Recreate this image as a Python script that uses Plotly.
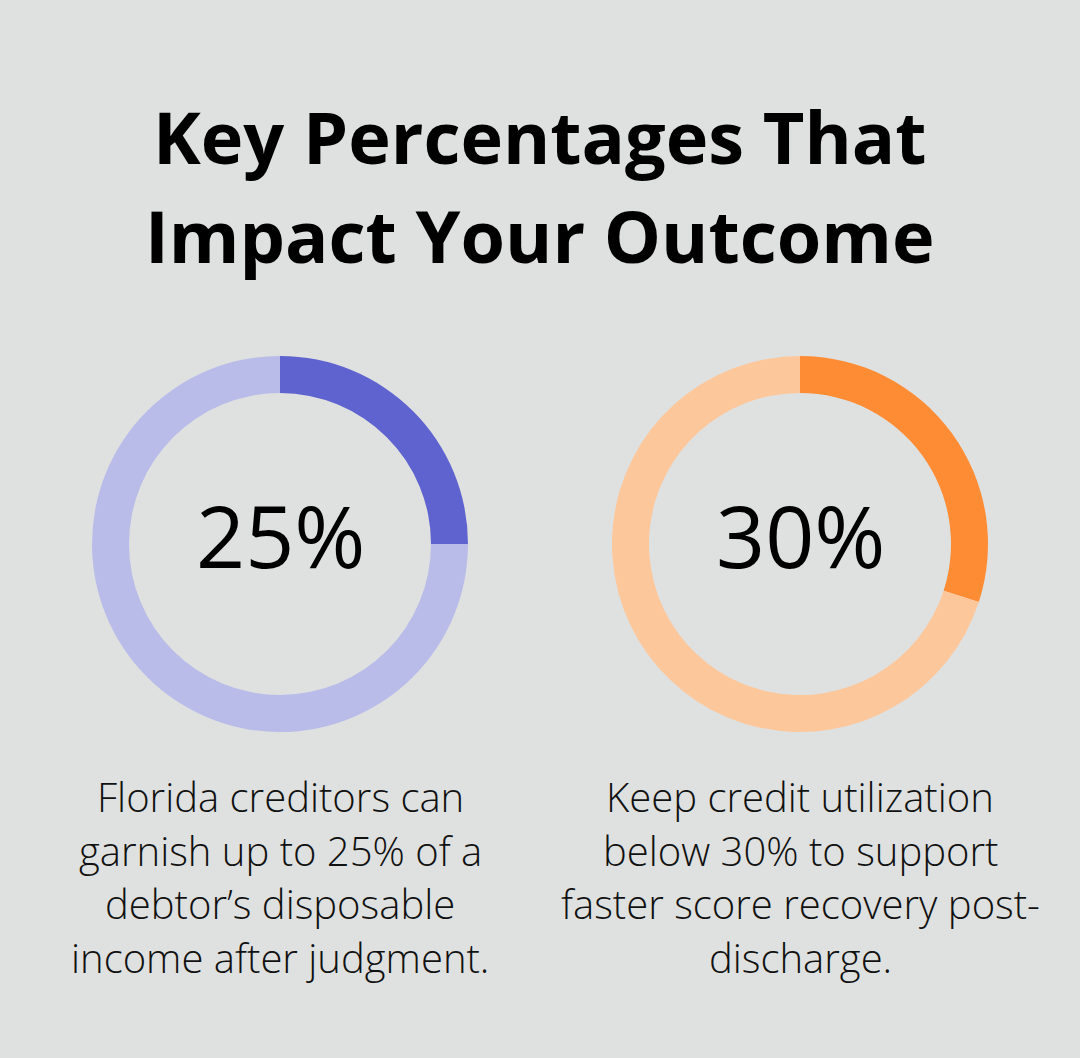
import plotly.graph_objects as go

W, H = 1080, 1058

# Data
title_lines = ["Key Percentages That", "Impact Your Outcome"]
percent_values = [25, 30]
percent_labels = ["25%", "30%"]
slice_names = ["Share", "Remainder"]
descriptions = [
    ["Florida creditors can", "garnish up to 25% of a", "debtor\u2019s disposable", "income after judgment."],
    ["Keep credit utilization", "below 30% to support", "faster score recovery post-", "discharge."],
]
colors = [["#5f63cf", "#b9bbe9"], ["#fe8c34", "#fdc79c"]]

BG = "#dfe1e0"
centers_x = [280, 800]
center_y = 544
R = 188


def py(y):
    return 1 - y / H


def px(x):
    return x / W


fig = go.Figure()
for i, v in enumerate(percent_values):
    cx = centers_x[i]
    fig.add_trace(go.Pie(
        values=[v, 100 - v],
        labels=slice_names,
        hole=151 / 188,
        sort=False,
        direction="clockwise",
        rotation=0,
        textinfo="none",
        hoverinfo="skip",
        showlegend=False,
        marker=dict(colors=colors[i], line=dict(width=0)),
        domain=dict(x=[px(cx - R), px(cx + R)], y=[py(center_y + R), py(center_y - R)]),
    ))

ann = []
title_y = [136.5, 235]
for t, y in zip(title_lines, title_y):
    ann.append(dict(text=t, x=0.5, y=py(y), xref="paper", yref="paper",
                    xanchor="center", yanchor="middle", showarrow=False,
                    font=dict(family="Open Sans", size=72, color="#000000", weight=700)))

for i, lab in enumerate(percent_labels):
    ann.append(dict(text=lab, x=px(centers_x[i]), y=py(534), xref="paper", yref="paper",
                    xanchor="center", yanchor="middle", showarrow=False,
                    font=dict(family="Open Sans", size=86, color="#000000", weight=400)))

line_y = [797, 851, 904.5, 958]
for i, lines in enumerate(descriptions):
    for t, y in zip(lines, line_y):
        ann.append(dict(text=t, x=px(centers_x[i]), y=py(y - 1), xref="paper", yref="paper",
                        xanchor="center", yanchor="middle", showarrow=False,
                        font=dict(family="Open Sans", size=40, color="#111111", weight=300)))

fig.update_layout(
    width=W, height=H,
    margin=dict(l=0, r=0, t=0, b=0),
    paper_bgcolor=BG, plot_bgcolor=BG,
    annotations=ann,
)

fig.write_html(
    "out.html",
    config={"displayModeBar": False, "staticPlot": True},
    post_script="document.body.style.margin='0';document.body.style.overflow='hidden';document.body.style.background='" + BG + "';",
)
